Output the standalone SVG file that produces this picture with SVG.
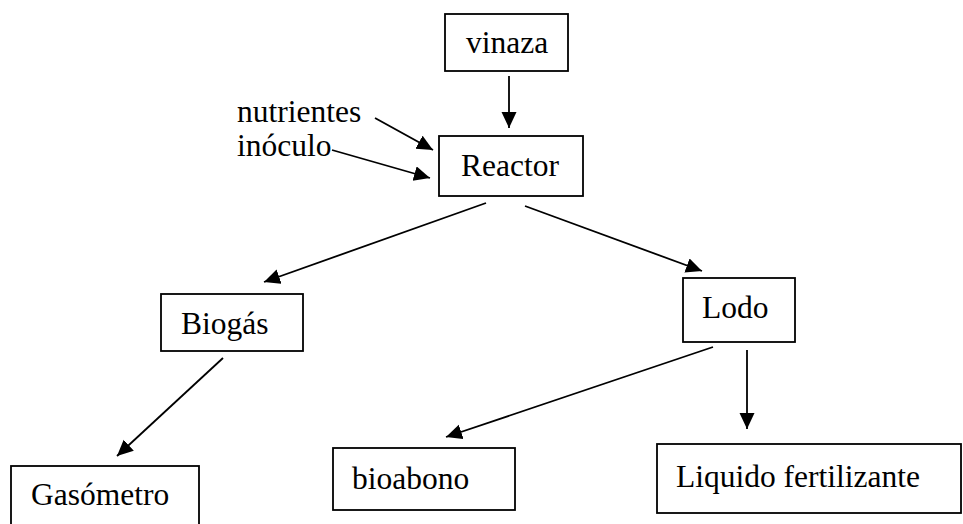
<svg xmlns="http://www.w3.org/2000/svg" width="963" height="524" viewBox="0 0 963 524">
  <style>
    .box { fill: #fff; stroke: #000; stroke-width: 1.8; }
    .lbl { font-family: "Liberation Serif", "Times New Roman", serif; font-size: 31.5px; fill: #000; }
    .edge { stroke: #000; stroke-width: 1.8; fill: none; marker-end: url(#arrow); }
  </style>
  <defs>
    <marker id="arrow" markerUnits="userSpaceOnUse" markerWidth="18" markerHeight="16" refX="16" refY="7.5" orient="auto">
      <path d="M0,0 L16,7.5 L0,15 Z" fill="#000"/>
    </marker>
  </defs>
  <rect width="963" height="524" fill="#fff"/>

  <!-- connectors -->
  <g id="connectors">
    <line class="edge" x1="509" y1="76" x2="509" y2="128"/>
    <line class="edge" x1="375" y1="118" x2="433" y2="150"/>
    <line class="edge" x1="332" y1="150" x2="430" y2="178"/>
    <line class="edge" x1="486" y1="203" x2="264" y2="282"/>
    <line class="edge" x1="525" y1="206" x2="702" y2="271"/>
    <line class="edge" x1="223" y1="358" x2="117" y2="456"/>
    <line class="edge" x1="713" y1="347" x2="446" y2="437"/>
    <line class="edge" x1="747" y1="350" x2="747" y2="429"/>
  </g>

  <!-- free-standing input labels -->
  <g id="inputs">
    <text class="lbl" x="237" y="122">nutrientes</text>
    <text class="lbl" x="237" y="156">inóculo</text>
  </g>

  <g id="vinaza">
    <rect class="box" x="445" y="14" width="123" height="57"/>
    <text class="lbl" x="466" y="53">vinaza</text>
  </g>
  <g id="reactor">
    <rect class="box" x="439" y="136" width="144" height="60"/>
    <text class="lbl" x="461" y="176">Reactor</text>
  </g>
  <g id="biogas">
    <rect class="box" x="161" y="294" width="142" height="57"/>
    <text class="lbl" x="181" y="334">Biogás</text>
  </g>
  <g id="lodo">
    <rect class="box" x="683" y="278" width="112" height="64"/>
    <text class="lbl" x="702" y="318">Lodo</text>
  </g>
  <g id="gasometro">
    <rect class="box" x="11" y="466" width="188" height="70"/>
    <text class="lbl" x="31" y="505">Gasómetro</text>
  </g>
  <g id="bioabono">
    <rect class="box" x="333" y="448" width="182" height="62"/>
    <text class="lbl" x="352" y="489">bioabono</text>
  </g>
  <g id="liquido">
    <rect class="box" x="657" y="444" width="304" height="69"/>
    <text class="lbl" x="676" y="487">Liquido fertilizante</text>
  </g>
</svg>
